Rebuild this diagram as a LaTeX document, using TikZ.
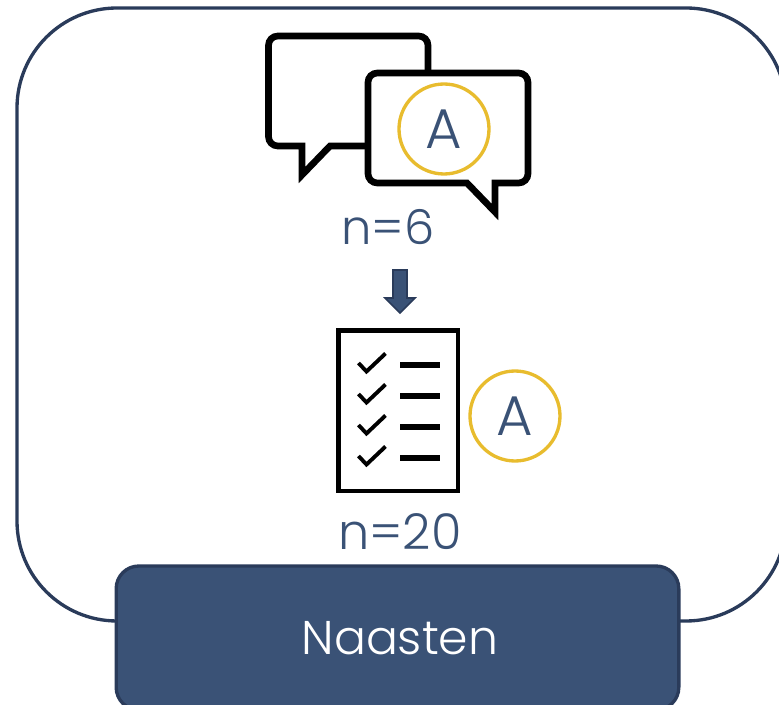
\documentclass[tikz,border=0pt]{standalone}
\usepackage{fontspec}
\setmainfont[UprightFont=* Light]{Poppins}
\usetikzlibrary{calc}
\definecolor{navy}{HTML}{3A5276}
\definecolor{navyline}{HTML}{2A3B5A}
\definecolor{gold}{HTML}{E8BC2E}
\tikzset{
    bubbleline/.style={line width=5pt,black,line join=miter,miter limit=10},
    badge/.style={circle,draw=gold,line width=2.5pt,minimum size=67.5pt,inner sep=0pt,text=navy,font=\fontsize{42}{42}\selectfont},
    count/.style={text=navy,inner sep=0pt,anchor=base},
    checkmark/.style={line width=2.9pt,black},
    dashline/.style={line width=3.8pt,black}
}
\begin{document}
\begin{tikzpicture}[x=0.75pt,y=-0.75pt]
    \useasboundingbox (0,0) rectangle (779,705);

    % outer frame
    \draw[navyline,line width=2.5pt,rounded corners=75pt] (17,8) rectangle (786,621);

    % back bubble
    \coordinate (B1) at (428,73);
    \coordinate (B2) at (428,36);
    \coordinate (B3) at (268.5,36);
    \coordinate (B4) at (268.5,146);
    \coordinate (B5) at (302,146);
    \coordinate (B6) at (302,175);
    \coordinate (B7) at (330,146);
    \coordinate (B8) at (368,146);
    \draw[bubbleline] (B1) [rounded corners=7pt] -- (B2) -- (B3) -- (B4) [sharp corners] -- (B5) -- (B6) -- (B7) -- (B8);

    % front bubble
    \coordinate (F1) at (368,73);
    \coordinate (F2) at (528,73);
    \coordinate (F3) at (528,183);
    \coordinate (F4) at (495,183);
    \coordinate (F5) at (495,212);
    \coordinate (F6) at (467,183);
    \coordinate (F7) at (368,183);
    \draw[bubbleline,fill=white] (F6) [rounded corners=7pt] -- (F7) -- (F1) -- (F2) -- (F3) [sharp corners] -- (F4) -- (F5) -- cycle;

    \node[badge] (badgetop) at (444,129) {\raisebox{-1.5pt}{A}};
    \node[count,font=\fontsize{36}{36}\selectfont] (counttop) at (388,245) {n=6};

    % arrow between the two rounds
    \coordinate (A1) at (393,270);
    \coordinate (A2) at (407,270);
    \coordinate (A3) at (407,298);
    \coordinate (A4) at (415,298);
    \coordinate (A5) at (400,313);
    \coordinate (A6) at (385,298);
    \coordinate (A7) at (393,298);
    \draw[navyline,fill=navy,line width=1.2pt] (A1) -- (A2) -- (A3) -- (A4) -- (A5) -- (A6) -- (A7) -- cycle;

    % checklist
    \draw[black,line width=3.4pt] (338.5,330.5) rectangle (458,491);

    \draw[checkmark] (358.5,363) -- (366.5,371.5) -- (385.5,353.5);
    \draw[checkmark] (358.5,394) -- (366.5,402.5) -- (385.5,384.5);
    \draw[checkmark] (358.5,425) -- (366.5,433.5) -- (385.5,415.5);
    \draw[checkmark] (358.5,456) -- (366.5,464.5) -- (385.5,446.5);

    \draw[dashline] (400,365) -- (440,365);
    \draw[dashline] (400,396) -- (440,396);
    \draw[dashline] (400,427) -- (440,427);
    \draw[dashline] (400,458) -- (440,458);

    \node[badge] (badgelow) at (515,416) {A};
    \node[count,font=\fontsize{37}{37}\selectfont] (countlow) at (400,550) {n=20};

    % caregivers box
    \node[draw=navyline,fill=navy,line width=2.5pt,rounded corners=17pt,minimum width=422pt,minimum height=108pt,inner sep=0pt] (naasten) at (397.5,638) {};
    \node[text=white,inner sep=0pt,anchor=base,font=\fontsize{35.5}{36}\selectfont] (naastenlabel) at (400,655) {Naasten};
\end{tikzpicture}
\end{document}
